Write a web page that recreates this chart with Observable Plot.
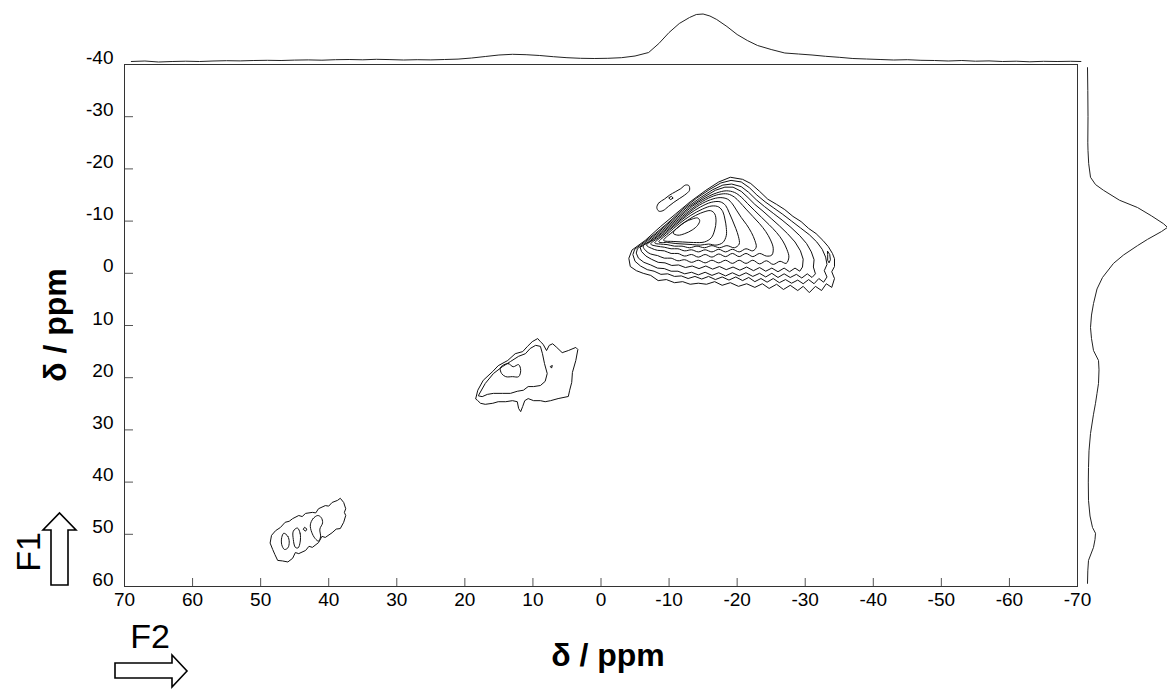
<!DOCTYPE html>
<html><head><meta charset="utf-8">
<script src="https://cdn.jsdelivr.net/npm/d3@7"></script>
<script src="https://cdn.jsdelivr.net/npm/@observablehq/plot@0.6"></script>
<style>
html,body{margin:0;padding:0;background:#fff;}
#wrap{position:relative;width:1167px;height:690px;overflow:hidden;background:#fff;font-family:"Liberation Sans",Arial,Helvetica,sans-serif;}
#wrap svg{position:absolute;left:0;top:0;pointer-events:none;}
</style></head>
<body><div id="wrap"></div>
<script>
// ---- axis ticks (ppm) ----
const xTicks = [70,60,50,40,30,20,10,0,-10,-20,-30,-40,-50,-60,-70];
const yTicks = [-40,-30,-20,-10,0,10,20,30,40,50,60];

// ---- contour rings [F2 ppm, F1 ppm] ----
const main1 = [[-4.6,-4.5],[-6.5,-6.3],[-8.7,-8.9],[-10.9,-11.3],[-13.1,-13.7],[-15.4,-15.9],[-17.3,-17.5],[-19.0,-18.4],[-20.8,-18.0],[-22.0,-17.2],[-23.3,-15.7],[-24.5,-14.2],[-25.8,-13.2],[-27.0,-12.2],[-28.2,-10.9],[-29.4,-9.9],[-30.5,-8.6],[-31.6,-7.6],[-32.6,-6.3],[-33.4,-5.1],[-34.0,-3.8],[-34.3,-2.8],[-34.3,-1.3],[-33.9,-0.3],[-34.3,1.0],[-33.9,2.7],[-33.1,2.0],[-32.4,3.3],[-31.5,2.5],[-30.6,3.7],[-29.7,2.5],[-28.9,3.3],[-27.8,2.3],[-26.8,3.1],[-25.8,2.1],[-24.7,2.9],[-23.7,2.0],[-22.6,2.7],[-21.4,2.0],[-20.2,2.5],[-19.0,1.8],[-17.8,2.3],[-16.7,1.6],[-15.5,2.1],[-14.3,1.9],[-13.1,2.1],[-12.0,1.6],[-10.8,1.8],[-9.6,1.2],[-8.4,1.4],[-7.3,0.4],[-6.2,0.0],[-5.2,-0.5],[-4.3,-1.3],[-4.1,-2.8]];
const main2 = [[-5.0,-4.65],[-6.0,-5.6],[-8.0,-7.65],[-10.0,-9.85],[-12.0,-12.25],[-14.0,-14.35],[-16.0,-16.1],[-17.6,-17.3],[-19.1,-17.8],[-20.6,-17.5],[-21.8,-16.4],[-22.9,-15.0],[-24.1,-13.7],[-25.4,-12.5],[-26.7,-11.3],[-28.0,-10.0],[-29.3,-8.7],[-30.6,-7.4],[-31.7,-6.0],[-32.5,-4.6],[-33.0,-3.1],[-33.2,-1.7],[-32.8,-0.5],[-33.2,0.7],[-32.7,1.7],[-32.0,1.0],[-31.3,2.0],[-30.5,1.2],[-29.7,2.0],[-28.9,1.3],[-28.0,1.9],[-27.1,1.2],[-26.2,1.8],[-25.3,1.0],[-24.4,1.7],[-23.5,1.0],[-22.6,1.6],[-21.7,0.8],[-20.8,1.4],[-19.8,0.7],[-18.8,1.3],[-17.8,0.7],[-16.8,1.2],[-15.8,0.6],[-14.8,1.1],[-13.8,0.6],[-12.8,1.0],[-11.8,0.5],[-10.8,0.6],[-9.8,0.1],[-8.8,0.2],[-7.8,-0.4],[-6.8,-0.7],[-5.8,-1.4],[-5.0,-2.3],[-4.7,-3.5]];
const main3 = [[-5.4,-4.75],[-6.5,-5.85],[-8.5,-7.95],[-10.5,-10.2],[-12.5,-12.5],[-14.5,-14.4],[-16.4,-16.0],[-17.9,-16.9],[-19.2,-17.1],[-20.6,-16.6],[-21.7,-15.5],[-22.8,-14.1],[-24.0,-12.8],[-25.3,-11.5],[-26.6,-10.2],[-27.9,-8.8],[-29.2,-7.2],[-30.2,-5.7],[-30.9,-4.1],[-31.3,-2.6],[-31.2,-1.2],[-31.5,0.1],[-31.0,0.8],[-30.3,0.1],[-29.5,0.9],[-28.7,0.2],[-27.8,0.8],[-26.9,0.1],[-26.0,0.8],[-25.1,0.0],[-24.2,0.7],[-23.3,0.0],[-22.3,0.6],[-21.3,-0.1],[-20.3,0.5],[-19.3,-0.1],[-18.3,0.5],[-17.3,-0.1],[-16.3,0.4],[-15.3,-0.2],[-14.3,0.3],[-13.3,-0.2],[-12.3,0.1],[-11.3,-0.4],[-10.3,-0.4],[-9.3,-0.9],[-8.3,-1.0],[-7.3,-1.6],[-6.3,-2.1],[-5.5,-2.9],[-5.2,-3.8]];
const main4 = [[-5.8,-5.0],[-7.0,-6.05],[-9.0,-8.2],[-11.0,-10.45],[-13.0,-12.7],[-15.0,-14.5],[-16.8,-15.9],[-18.2,-16.5],[-19.4,-16.5],[-20.6,-15.7],[-21.6,-14.5],[-22.6,-13.2],[-23.8,-11.9],[-25.0,-10.5],[-26.2,-9.1],[-27.4,-7.6],[-28.5,-6.0],[-29.3,-4.3],[-29.7,-2.7],[-29.6,-1.2],[-29.2,-0.4],[-28.5,-1.0],[-27.7,-0.3],[-26.9,-1.0],[-26.0,-0.3],[-25.1,-1.0],[-24.2,-0.4],[-23.3,-1.1],[-22.4,-0.5],[-21.4,-1.2],[-20.4,-0.6],[-19.4,-1.2],[-18.4,-0.7],[-17.4,-1.3],[-16.4,-0.8],[-15.4,-1.4],[-14.4,-0.9],[-13.4,-1.4],[-12.4,-1.1],[-11.4,-1.6],[-10.4,-1.5],[-9.4,-2.0],[-8.4,-2.1],[-7.4,-2.7],[-6.6,-3.3],[-6.0,-4.1]];
const main5 = [[-6.2,-5.2],[-7.4,-6.25],[-9.4,-8.35],[-11.4,-10.6],[-13.4,-12.8],[-15.3,-14.4],[-17.0,-15.4],[-18.4,-15.8],[-19.6,-15.5],[-20.6,-14.6],[-21.5,-13.4],[-22.5,-12.1],[-23.6,-10.7],[-24.7,-9.3],[-25.8,-7.8],[-26.7,-6.2],[-27.3,-4.6],[-27.6,-3.1],[-27.2,-1.9],[-26.3,-2.3],[-25.3,-1.7],[-24.3,-2.4],[-23.3,-1.8],[-22.3,-2.5],[-21.3,-1.9],[-20.3,-2.5],[-19.3,-1.9],[-18.3,-2.5],[-17.3,-2.0],[-16.3,-2.5],[-15.3,-2.0],[-14.3,-2.5],[-13.3,-2.1],[-12.3,-2.6],[-11.3,-2.4],[-10.3,-2.9],[-9.3,-2.9],[-8.3,-3.4],[-7.3,-3.7],[-6.6,-4.3]];
const main6 = [[-6.7,-5.4],[-8.0,-6.65],[-10.0,-8.75],[-12.0,-10.95],[-14.0,-13.0],[-15.8,-14.4],[-17.3,-15.1],[-18.6,-15.2],[-19.6,-14.6],[-20.4,-13.6],[-21.3,-12.3],[-22.3,-10.9],[-23.3,-9.5],[-24.2,-8.0],[-24.9,-6.4],[-25.3,-4.8],[-25.1,-3.5],[-24.3,-3.3],[-23.3,-3.8],[-22.3,-3.2],[-21.3,-3.8],[-20.3,-3.2],[-19.3,-3.8],[-18.3,-3.2],[-17.3,-3.7],[-16.3,-3.1],[-15.3,-3.6],[-14.3,-3.1],[-13.3,-3.6],[-12.3,-3.3],[-11.3,-3.8],[-10.3,-3.8],[-9.3,-4.3],[-8.3,-4.4],[-7.4,-4.8]];
const main7 = [[-7.3,-5.6],[-8.6,-6.95],[-10.6,-9.1],[-12.6,-11.3],[-14.5,-13.1],[-16.1,-14.1],[-17.5,-14.5],[-18.6,-14.2],[-19.3,-13.3],[-19.9,-12.1],[-20.6,-10.7],[-21.4,-9.3],[-22.1,-7.8],[-22.6,-6.3],[-22.8,-5.0],[-22.3,-4.3],[-21.3,-4.7],[-20.3,-4.1],[-19.3,-4.6],[-18.3,-4.1],[-17.3,-4.6],[-16.3,-4.1],[-15.3,-4.5],[-14.3,-4.1],[-13.3,-4.5],[-12.3,-4.3],[-11.3,-4.7],[-10.3,-4.7],[-9.3,-5.0],[-8.2,-5.2]];
const main8 = [[-7.9,-5.8],[-9.2,-7.3],[-11.0,-9.3],[-12.8,-11.2],[-14.6,-12.7],[-16.2,-13.6],[-17.5,-13.7],[-18.3,-13.0],[-18.8,-11.7],[-19.3,-10.2],[-19.8,-8.6],[-20.2,-7.0],[-20.3,-5.6],[-19.6,-4.9],[-18.5,-5.3],[-17.4,-4.9],[-16.3,-5.3],[-15.2,-4.9],[-14.1,-5.2],[-13.0,-4.9],[-11.9,-5.2],[-10.8,-5.2],[-9.7,-5.5],[-8.7,-5.6]];
const main9 = [[-8.5,-6.0],[-9.8,-7.6],[-11.5,-9.5],[-13.2,-11.1],[-14.9,-12.3],[-16.3,-12.9],[-17.3,-12.7],[-17.9,-11.8],[-18.2,-10.4],[-18.4,-8.8],[-18.4,-7.2],[-17.9,-5.9],[-16.9,-5.4],[-15.8,-5.6],[-14.6,-5.4],[-13.4,-5.5],[-12.2,-5.6],[-11.0,-5.7],[-9.8,-5.9]];
const main10 = [[-9.2,-6.3],[-10.3,-7.7],[-11.9,-9.4],[-13.5,-10.8],[-15.0,-11.7],[-16.1,-12.0],[-16.7,-11.4],[-16.9,-10.0],[-16.7,-8.3],[-16.2,-6.8],[-15.2,-6.0],[-13.6,-5.9],[-12.0,-6.0],[-10.6,-6.1]];
const main11 = [[-10.6,-7.7],[-11.3,-8.8],[-12.3,-9.8],[-13.4,-10.4],[-14.2,-10.6],[-14.5,-10.1],[-14.2,-9.2],[-13.4,-8.3],[-12.3,-7.6],[-11.3,-7.3]];
const mainLoop = [[-33.3,-4.2],[-33.6,-3.6],[-33.7,-2.6],[-33.5,-2.0],[-33.3,-2.5],[-33.3,-3.5]];
const satellite = [[-8.2,-12.6],[-8.5,-13.5],[-9.3,-14.2],[-10.1,-15.0],[-10.9,-15.6],[-11.7,-16.2],[-12.4,-16.9],[-12.9,-16.8],[-13.0,-15.9],[-12.3,-15.0],[-11.5,-14.3],[-10.7,-13.6],[-9.9,-12.8],[-9.1,-12.0],[-8.5,-11.9]];
const satelliteCore = [[-10.0,-14.5],[-10.35,-14.75],[-10.6,-14.4],[-10.25,-14.15]];
const peak2Outer = [[18.4,24.0],[18.1,22.4],[17.3,20.5],[15.9,18.8],[15.1,17.7],[13.7,16.7],[12.6,15.4],[11.5,15.0],[10.8,14.0],[10.1,13.1],[9.3,12.5],[8.9,13.1],[8.5,13.6],[8.0,14.8],[7.6,13.8],[7.1,13.5],[6.5,14.2],[5.7,15.2],[4.8,14.8],[3.7,14.2],[3.4,14.6],[3.7,16.7],[4.2,19.0],[4.3,20.9],[4.6,22.4],[4.8,23.6],[6.3,24.0],[7.4,24.4],[8.2,24.6],[8.9,24.4],[9.9,24.4],[10.7,24.0],[11.2,24.4],[11.5,25.5],[11.8,26.5],[12.1,25.9],[12.3,24.6],[13.0,24.4],[14.0,24.6],[15.1,24.6],[15.9,24.9],[17.0,25.1],[17.7,24.9],[18.1,24.4]];
const peak2Mid = [[18.0,23.4],[17.0,21.1],[15.8,19.2],[14.5,17.9],[13.3,16.9],[12.1,15.9],[11.1,15.4],[10.4,14.4],[9.6,13.8],[8.9,14.0],[8.6,15.4],[8.3,17.3],[7.9,19.2],[8.2,20.7],[8.9,21.5],[9.9,21.7],[10.7,21.7],[11.4,22.4],[12.3,22.6],[13.3,23.0],[14.5,23.0],[15.8,23.0],[16.7,23.2],[17.4,23.6]];
const peak2Core = [[14.5,17.7],[13.6,17.3],[12.9,17.9],[12.1,17.5],[11.8,18.6],[12.1,19.8],[13.0,19.8],[14.0,19.8],[14.6,19.2],[14.8,18.2]];
const peak2Dot = [[7.2,17.7],[7.45,17.85],[7.3,18.1]];
const peak3Outer = [[48.6,51.6],[48.4,50.2],[47.8,49.3],[47.1,48.7],[46.4,47.7],[45.8,47.5],[45.3,47.0],[44.4,46.4],[43.9,46.6],[43.4,46.0],[42.4,45.8],[41.9,45.9],[41.5,45.1],[40.5,44.5],[40.0,44.6],[39.5,43.9],[38.7,43.5],[38.3,43.1],[37.8,43.9],[37.5,45.1],[37.7,45.8],[37.5,46.4],[37.8,47.7],[38.3,48.9],[38.9,49.0],[39.5,49.7],[40.5,50.6],[41.0,50.4],[41.5,51.6],[42.4,52.5],[42.9,52.3],[43.4,53.1],[44.4,53.7],[44.9,53.5],[45.3,54.6],[46.0,55.3],[46.8,55.1],[47.5,55.0],[47.9,53.9],[48.2,53.0]];
const peak3LoopA = [[46.6,49.8],[46.0,50.4],[45.8,51.5],[46.0,52.6],[46.5,52.9],[46.9,52.0],[46.9,50.6]];
const peak3LoopB = [[44.6,48.8],[44.2,49.8],[44.2,51.5],[44.5,52.6],[44.9,52.5],[45.2,51.0],[45.2,49.4]];
const peak3LoopC = [[43.5,48.7],[43.2,49.0],[43.4,49.4],[43.7,49.1]];
const peak3LoopD = [[41.6,46.4],[42.3,47.0],[42.7,48.2],[42.5,49.6],[42.0,50.8],[41.5,51.3],[41.2,50.5],[41.3,49.0],[40.9,47.8],[41.1,46.8]];

// ---- projections ----
const topPpm = [69,67,65,63,61,59,57,55,53,51,49,47,45,43,41,39,37,35,33,31,29,27,25,23,21,19,17,15,13,11,9,7,5,3,1,-1,-3,-5,-7,-8.5,-10,-11.5,-13,-14,-15,-16,-17,-18.5,-20,-21.5,-23,-25,-27,-29,-31,-33,-35,-37,-39,-41,-43,-45,-47,-49,-51,-53,-55,-57,-59,-61,-63,-65,-67,-69,-70.5];
const topInt = [0,0.5,-0.5,0,0.3,0,0.5,0.8,0.6,1.0,1.2,1.0,1.4,1.6,1.3,1.8,2.0,1.7,2.2,1.9,1.5,1.8,1.6,2.0,2.4,3.5,5.0,6.5,7.2,6.8,6.0,4.8,3.8,3.2,3.0,3.2,3.8,5.5,9,18,29,38,44,47,47.5,45.5,42,35,27,21,16,12,8.5,7.5,6.5,5.2,4.2,3.0,2.5,2.0,1.5,1.8,1.2,1.0,0.5,1.0,0.3,0.6,0,0.3,-0.3,0.2,0,0.2,0];
const rightPpm = [-39.4,-35,-30,-25,-23.5,-21,-18.4,-17,-15.9,-14,-12.6,-11,-9.5,-8.8,-8,-6.5,-5.3,-3.5,-1.9,0.8,3,5.8,8,10.4,12.5,14.8,16.7,18.5,21.1,23,24.9,27,30.7,34,37.2,40,43.5,46.5,48.7,49.8,51,52.5,55,57,59.4];
const rightInt = [0,0.3,0.5,0.3,0.5,1.2,3,8,16,32,50,64,76,80,74,60,50,36,26,15,9.5,6,4,3,4,6,11,11.5,11,9.5,8,6,3,1.5,1,0.8,1,2.5,5,8,7.5,6,1,0.3,0];

// ---- build tables ----
const toRows = (obj) => Object.entries(obj).flatMap(([id, pts]) => pts.map(([x, y]) => ({id, x, y})));
const jaggedRows = toRows({main1, main2, main3, main4, mainLoop, peak2Outer, peak2Mid, peak3Outer, peak2Dot, peak3LoopC, satelliteCore});
const smoothRows = toRows({main5, main6, main7, main8, main9, main10, main11, satellite, peak2Core, peak3LoopA, peak3LoopB, peak3LoopD});
const topRows = topPpm.map((p, i) => ({p, v: topInt[i]}));
const rightRows = rightPpm.map((p, i) => ({p, v: rightInt[i]}));

const FONT = '"Liberation Sans", Arial, Helvetica, sans-serif';
const W = 1167, H = 690, ML = 124, MR = 90, MT = 64, MB = 104;
const wrap = document.getElementById("wrap");

const main = Plot.plot({
  width: W, height: H, marginLeft: ML, marginRight: MR, marginTop: MT, marginBottom: MB,
  style: {background: "transparent", fontFamily: FONT, fontSize: "19px", color: "#000"},
  x: {domain: [70, -70], axis: null},
  y: {domain: [60, -40], axis: null},
  marks: [
    Plot.ruleX(xTicks, {x: d => d, insetTop: H - MT - MB - 8, stroke: "#555", strokeWidth: 1}),
    Plot.ruleY(yTicks, {y: d => d, insetRight: W - ML - MR - 9, stroke: "#555", strokeWidth: 1}),
    Plot.frame({stroke: "#333", strokeWidth: 1}),
    Plot.text(xTicks, {x: d => d, text: d => String(d), frameAnchor: "bottom", lineAnchor: "top", dy: 6, fontSize: 19, fill: "#000"}),
    Plot.text(yTicks, {y: d => d, text: d => String(d), frameAnchor: "left", textAnchor: "end", dx: -11, dy: -7, fontSize: 19, fill: "#000"}),
    Plot.line(jaggedRows, {x: "x", y: "y", z: "id", curve: "linear-closed", stroke: "#111", strokeWidth: 1}),
    Plot.line(smoothRows, {x: "x", y: "y", z: "id", curve: "catmull-rom-closed", stroke: "#111", strokeWidth: 1})
  ]
});
wrap.appendChild(main);

const topProj = Plot.plot({
  width: W, height: 64, marginLeft: ML, marginRight: MR, marginTop: 13, marginBottom: 3,
  style: {background: "transparent"},
  x: {domain: [70, -70], axis: null},
  y: {domain: [0, 48], axis: null},
  marks: [Plot.line(topRows, {x: "p", y: "v", stroke: "#222", strokeWidth: 1})]
});
wrap.appendChild(topProj);

const rightProj = Plot.plot({
  width: W, height: H, marginLeft: 1087, marginRight: 0, marginTop: MT, marginBottom: MB,
  style: {background: "transparent"},
  x: {domain: [0, 80], axis: null},
  y: {domain: [60, -40], axis: null},
  marks: [Plot.line(rightRows, {x: "v", y: "p", stroke: "#222", strokeWidth: 1})]
});
wrap.appendChild(rightProj);

// ---- titles and direction arrows ----
const deco = d3.create("svg").attr("width", W).attr("height", H).attr("font-family", FONT);
deco.append("text").attr("x", 608).attr("y", 666).attr("text-anchor", "middle")
  .attr("font-size", 32).attr("font-weight", "bold").text("δ / ppm");
deco.append("text").attr("transform", "translate(66,325) rotate(-90)").attr("text-anchor", "middle")
  .attr("font-size", 32).attr("font-weight", "bold").text("δ / ppm");
deco.append("text").attr("transform", "translate(40,552) rotate(-90)").attr("text-anchor", "middle")
  .attr("font-size", 34).text("F1");
deco.append("text").attr("x", 150).attr("y", 648).attr("text-anchor", "middle")
  .attr("font-size", 34).text("F2");
deco.append("path").attr("d", "M51,585 L68,585 L68,530 L76,530 L59.5,513 L43,530 L51,530 Z")
  .attr("fill", "#fff").attr("stroke", "#000").attr("stroke-width", 1.6);
deco.append("path").attr("d", "M115,663 L172,663 L172,655 L187,671 L172,687 L172,678 L115,678 Z")
  .attr("fill", "#fff").attr("stroke", "#000").attr("stroke-width", 1.6);
wrap.appendChild(deco.node());
</script>
</body></html>
